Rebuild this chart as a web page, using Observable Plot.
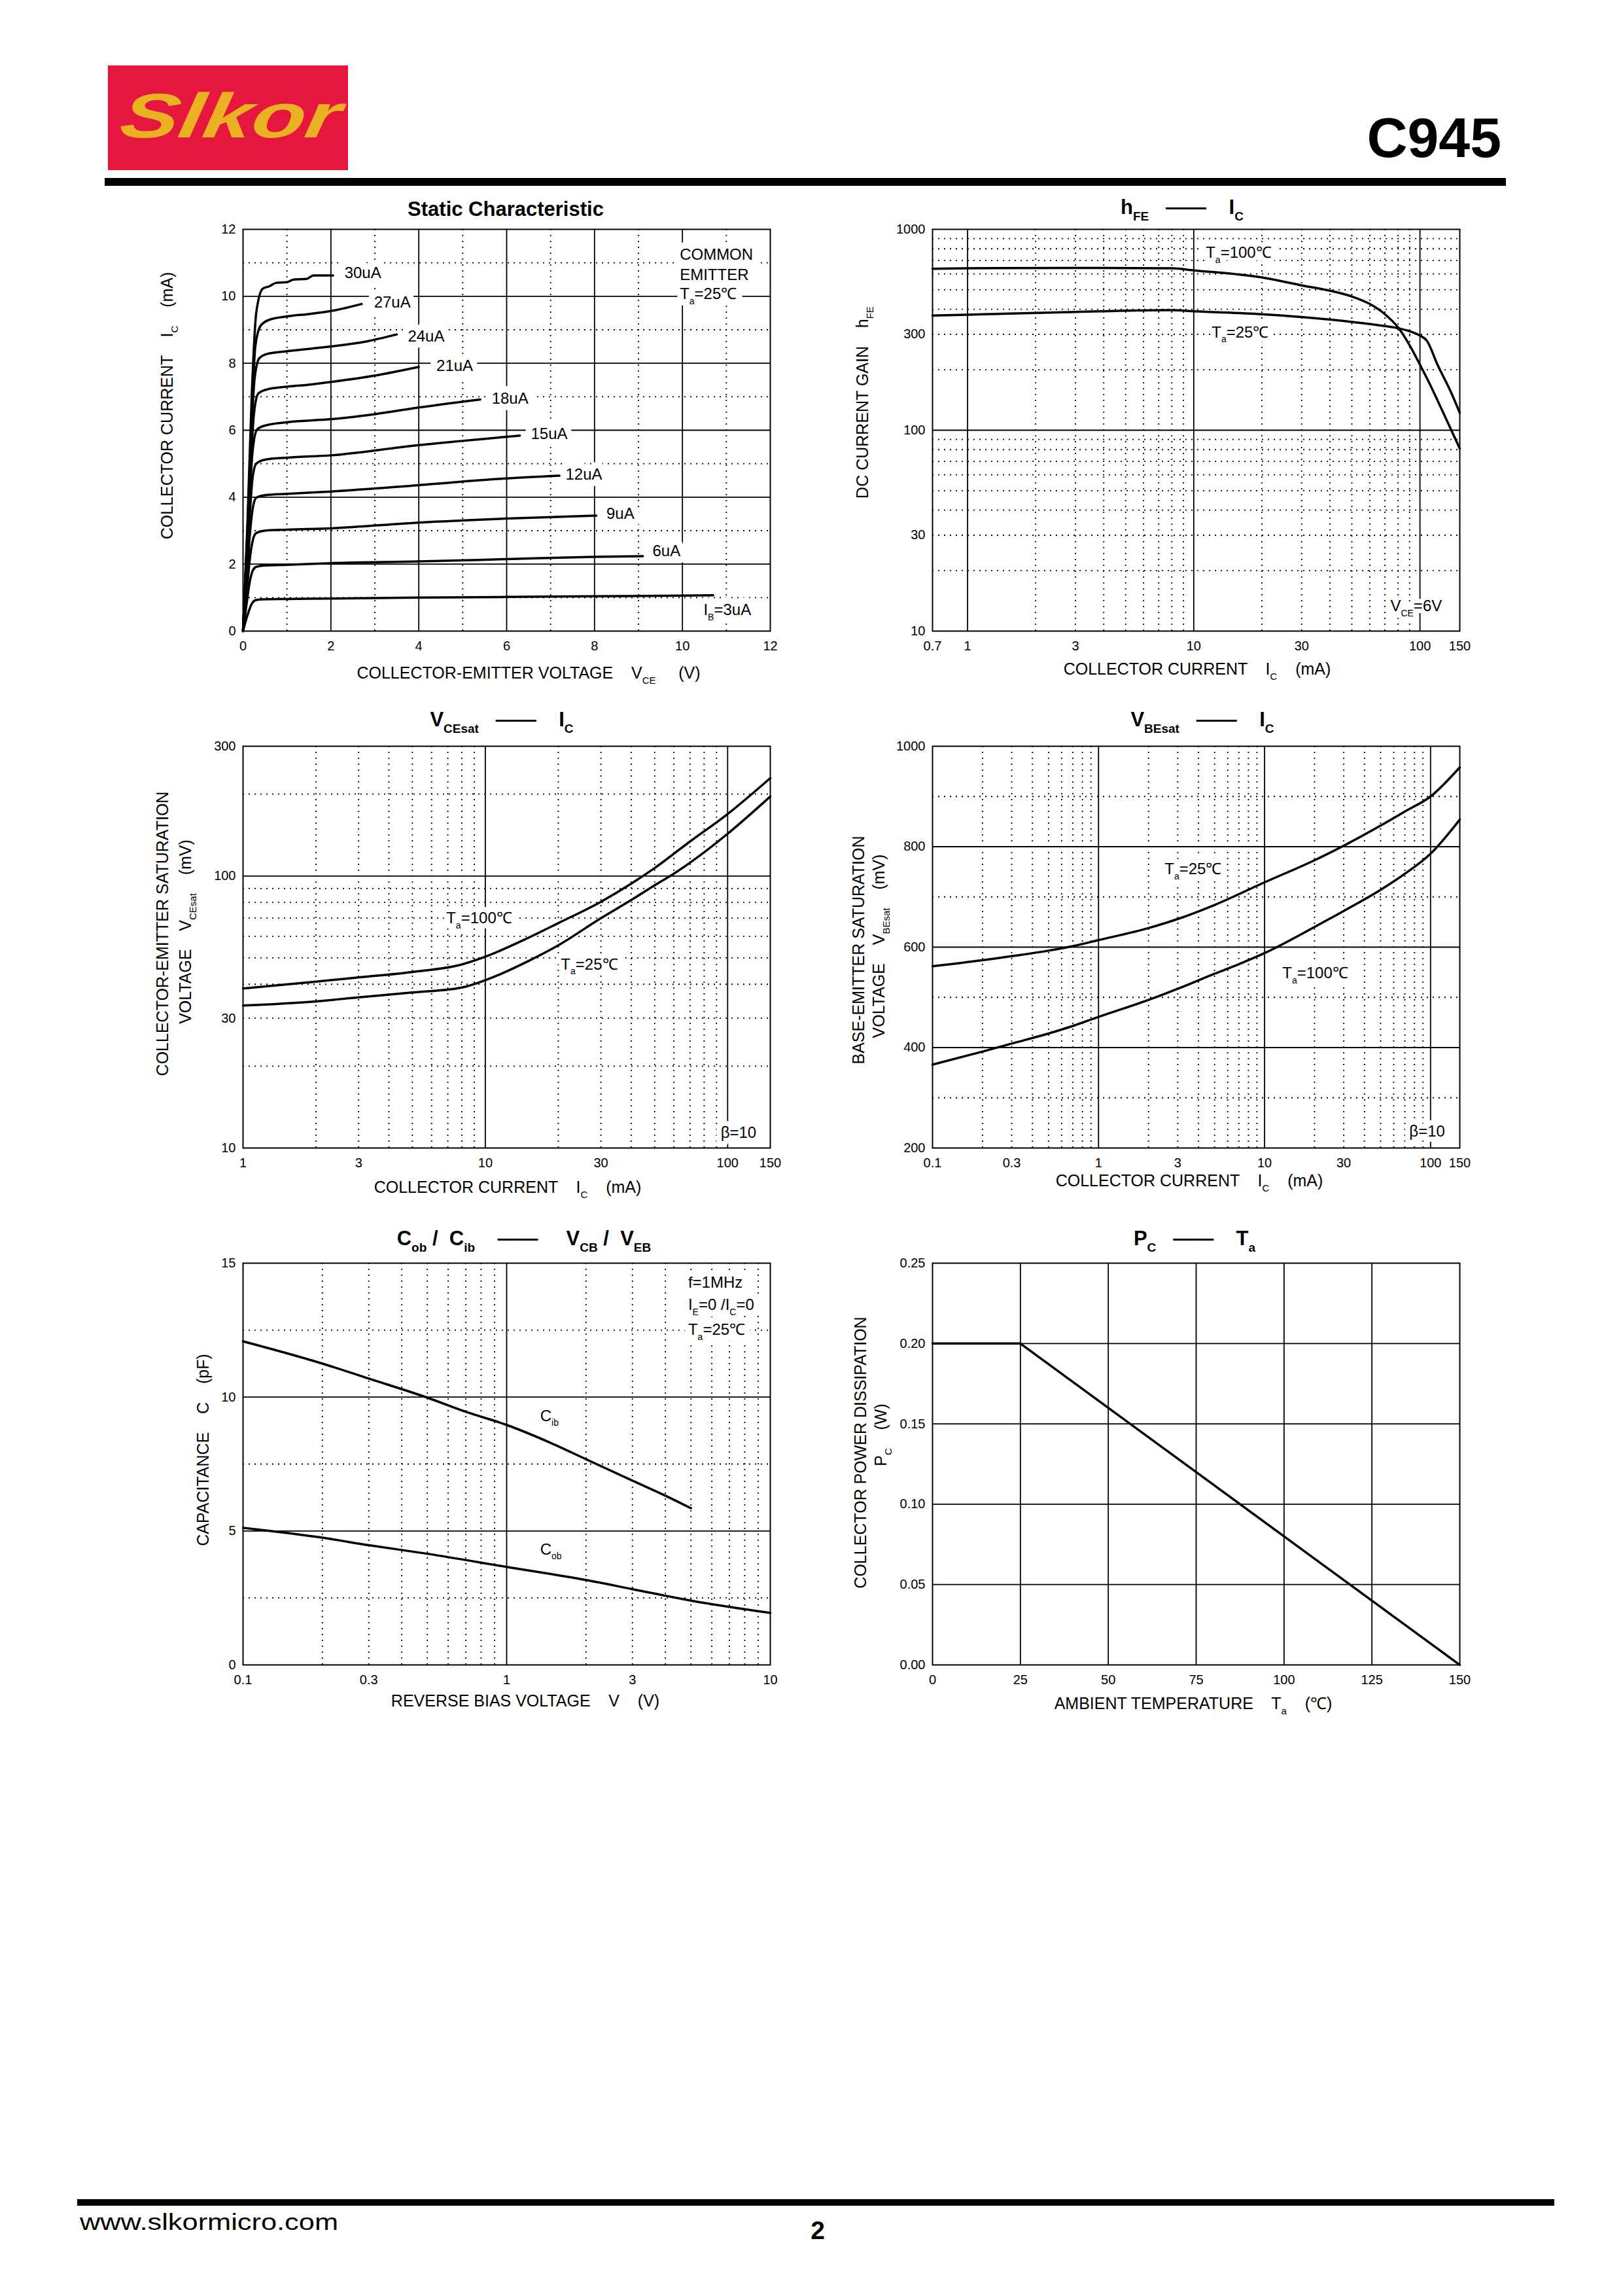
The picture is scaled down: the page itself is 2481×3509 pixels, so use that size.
<!DOCTYPE html>
<html><head><meta charset="utf-8">
<script src="https://cdn.jsdelivr.net/npm/d3@7"></script>
<script src="https://cdn.jsdelivr.net/npm/@observablehq/plot@0.6"></script>
<style>
html,body{margin:0;padding:0;background:#fff;}
#page{position:relative;width:2481px;height:3509px;overflow:hidden;background:#fff;}
#page svg text{white-space:pre;}
</style></head><body><div id="page"></div>
<script>
const FONT = "'Liberation Sans', Arial, Helvetica, sans-serif";

// ---------------- Chart 1: Static Characteristic ----------------
const staticTicks = [0, 2, 4, 6, 8, 10, 12];
const staticSolid = [2, 4, 6, 8, 10];
const staticDotted = [1, 3, 5, 7, 9, 11];
const ib3  = [[0,0],[0.06,0.3],[0.12,0.55],[0.2,0.82],[0.3,0.93],[0.45,0.95],[1,0.96],[2,0.97],[4,1.0],[6,1.02],[8,1.04],[10,1.06],[10.7,1.07]];
const ib6  = [[0,0],[0.08,0.8],[0.15,1.45],[0.22,1.8],[0.3,1.92],[0.5,1.96],[1,1.98],[2,2.03],[4,2.08],[6,2.15],[8,2.22],[9.1,2.24]];
const ib9  = [[0,0],[0.08,1.1],[0.15,2.1],[0.22,2.7],[0.3,2.93],[0.5,3.0],[1,3.03],[2,3.07],[4,3.24],[6,3.36],[8.04,3.45]];
const ib12 = [[0,0],[0.08,1.4],[0.15,2.8],[0.22,3.65],[0.3,3.98],[0.5,4.06],[1,4.1],[2,4.17],[4,4.36],[6,4.56],[7.2,4.64]];
const ib15 = [[0,0],[0.08,1.7],[0.15,3.4],[0.22,4.6],[0.3,5.0],[0.5,5.12],[1,5.18],[2,5.25],[3.9,5.54],[6.3,5.84]];
const ib18 = [[0,0],[0.08,2.0],[0.15,4.0],[0.22,5.4],[0.32,6.02],[0.5,6.14],[1,6.24],[2,6.33],[3,6.48],[3.9,6.66],[5.4,6.92]];
const ib21 = [[0,0],[0.1,2.6],[0.17,4.8],[0.25,6.5],[0.35,7.1],[0.55,7.22],[1,7.3],[1.5,7.36],[2,7.44],[3,7.63],[4,7.89]];
const ib24 = [[0,0],[0.1,2.8],[0.18,5.5],[0.26,7.5],[0.37,8.15],[0.55,8.28],[1,8.36],[2,8.5],[2.8,8.65],[3.5,8.86]];
const ib27 = [[0,0],[0.1,3.0],[0.2,6.5],[0.28,8.5],[0.4,9.12],[0.6,9.3],[1,9.4],[1.5,9.47],[2,9.56],[2.7,9.77]];
const ib30 = [[0,0],[0.1,3.2],[0.2,7.1],[0.3,9.5],[0.45,10.23],[0.6,10.3],[0.75,10.4],[1.0,10.42],[1.15,10.5],[1.45,10.52],[1.6,10.62],[2.05,10.62]];
const staticSeries = [ib3, ib6, ib9, ib12, ib15, ib18, ib21, ib24, ib27, ib30];
const staticLabels = ["I_{B}=3uA", "6uA", "9uA", "12uA", "15uA", "18uA", "21uA", "24uA", "27uA", "30uA"];
const staticLabelX = [10.48, 9.32, 8.27, 7.34, 6.55, 5.66, 4.40, 3.75, 2.98, 2.31];
const staticLabelY = [0.63, 2.38, 3.50, 4.68, 5.88, 6.95, 7.92, 8.79, 9.82, 10.69];
const staticNote = ["COMMON", "EMITTER", "T_{a}=25℃"];
const staticNoteX = [9.94, 9.94, 9.94];
const staticNoteY = [11.24, 10.64, 10.06];

// ---------------- Chart 2: hFE - IC ----------------
const hfeXTicks = [0.7, 1, 3, 10, 30, 100, 150];
const hfeYTicks = [10, 30, 100, 300, 1000];
const hfeXSolid = [1, 10, 100];
const hfeXDotted = [2,3,4,5,6,7,8,9,20,30,40,50,60,70,80,90];
const hfeYSolid = [100];
const hfeYDotted = [20,30,40,50,60,70,80,90,200,300,400,500,600,700,800,900];
const hfe100 = [[0.7,637],[1,640],[3,643],[8,640],[10,625],[20,576],[30,526],[40,495],[50,463],[60,425],[70,378],[80,325],[90,265],[100,212],[111,168],[126,124],[150,81]];
const hfe25  = [[0.7,372],[1,376],[3,388],[8,396],[10,391],[20,378],[30,366],[50,346],[70,330],[80,322],[90,311],[100,296],[107,280],[120,210],[137,155],[150,122]];
const hfeLabels = ["T_{a}=100℃", "T_{a}=25℃", "V_{CE}=6V"];
const hfeLabelX = [11.3, 12.0, 74];
const hfeLabelY = [762, 307, 13.3];

// ---------------- Chart 3: VCEsat - IC ----------------
const vceXTicks = [1, 3, 10, 30, 100, 150];
const vceYTicks = [10, 30, 100, 300];
const vceXSolid = [10, 100];
const vceXDotted = [2,3,4,5,6,7,8,9,20,30,40,50,60,70,80,90];
const vceYSolid = [100];
const vceYDotted = [20,30,40,50,60,70,80,90,200];
const vcesat100 = [[1,38.6],[2,40.9],[3,42.4],[5,44.4],[8,47.3],[10,50.5],[15,59.2],[20,67.1],[30,80.4],[40,93.7],[50,107],[70,134],[100,169],[150,229]];
const vcesat25  = [[1,33.4],[2,34.6],[3,35.8],[5,37.3],[8,38.9],[10,41.4],[15,48.6],[20,55.6],[30,70],[40,81.6],[50,92.5],[60,102],[70,112],[100,143],[150,196]];
const vceLabels = ["T_{a}=100℃", "T_{a}=25℃", "β=10"];
const vceLabelX = [6.9, 20.5, 93.6];
const vceLabelY = [70, 47.3, 11.4];

// ---------------- Chart 4: VBEsat - IC ----------------
const vbeXTicks = [0.1, 0.3, 1, 3, 10, 30, 100, 150];
const vbeYTicks = [200, 400, 600, 800, 1000];
const vbeXSolid = [1, 10, 100];
const vbeXDotted = [0.2,0.3,0.4,0.5,0.6,0.7,0.8,0.9,2,3,4,5,6,7,8,9,20,30,40,50,60,70,80,90];
const vbeYSolid = [400, 600, 800];
const vbeYDotted = [300, 500, 700, 900];
const vbesat25  = [[0.1,562],[0.2,574],[0.3,582],[0.5,593],[0.7,602],[1,614],[2,638],[3,656],[5,684],[10,729],[20,773],[30,802],[50,842],[70,870],[100,900],[150,958]];
const vbesat100 = [[0.1,366],[0.2,392],[0.3,408],[0.5,428],[0.7,443],[1,461],[2,495],[3,517],[5,547],[7,566],[10,588],[20,640],[30,672],[50,714],[70,746],[100,786],[150,854]];
const vbeLabels = ["T_{a}=25℃", "T_{a}=100℃", "β=10"];
const vbeLabelX = [2.5, 12.8, 74.5];
const vbeLabelY = [755, 548, 233];

// ---------------- Chart 5: Cob/Cib - VCB/VEB ----------------
const capXTicks = [0.1, 0.3, 1, 3, 10];
const capYTicks = [0, 5, 10, 15];
const capXSolid = [1];
const capXDotted = [0.2,0.3,0.4,0.5,0.6,0.7,0.8,0.9,2,3,4,5,6,7,8,9];
const capYSolid = [5, 10];
const capYDotted = [2.5, 7.5, 12.5];
const cib = [[0.1,12.08],[0.2,11.25],[0.3,10.69],[0.5,9.98],[0.7,9.45],[1,8.96],[1.5,8.25],[2,7.68],[3,6.88],[4,6.32],[5,5.85]];
const cob = [[0.1,5.12],[0.2,4.75],[0.3,4.47],[0.5,4.15],[1,3.66],[2,3.17],[3,2.83],[5,2.4],[10,1.94]];
const capLabels = ["C_{ib}", "C_{ob}", "f=1MHz", "I_{E}=0 /I_{C}=0", "T_{a}=25℃"];
const capLabelX = [1.34, 1.34, 4.88, 4.88, 4.88];
const capLabelY = [9.3, 4.31, 14.26, 13.43, 12.51];

// ---------------- Chart 6: PC - Ta ----------------
const pcXTicks = [0, 25, 50, 75, 100, 125, 150];
const pcYTicks = [0, 0.05, 0.10, 0.15, 0.20, 0.25];
const pcXSolid = [25, 50, 75, 100, 125];
const pcYSolid = [0.05, 0.10, 0.15, 0.20];
const pcDerating = [[0,0.2],[25,0.2],[150,0]];

// ---------------- Page texts ----------------
const titles = ["Static Characteristic", "h_{FE}   ——    I_{C}", "V_{CEsat}   ——    I_{C}", "V_{BEsat}   ——    I_{C}",
  "C_{ob} /  C_{ib}    ——     V_{CB} /  V_{EB}", "P_{C}   ——    T_{a}"];
const xLabels = ["COLLECTOR-EMITTER VOLTAGE    V_{CE}     (V)", "COLLECTOR CURRENT    I_{C}    (mA)", "COLLECTOR CURRENT    I_{C}    (mA)",
  "COLLECTOR CURRENT    I_{C}    (mA)", "REVERSE BIAS VOLTAGE    V    (V)", "AMBIENT TEMPERATURE    T_{a}    (℃)"];
const yLabels1 = ["COLLECTOR CURRENT    I_{C}    (mA)", "DC CURRENT GAIN    h_{FE}", "COLLECTOR-EMITTER SATURATION",
  "BASE-EMITTER SATURATION", "CAPACITANCE    C    (pF)", "COLLECTOR POWER DISSIPATION"];
const yLabels2 = [null, null, "VOLTAGE    V_{CEsat}    (mV)", "VOLTAGE    V_{BEsat}    (mV)", null, "P_{C}    (W)"];

const page = document.getElementById("page");
const NS = "http://www.w3.org/2000/svg";

function finishText(root) {
  root.querySelectorAll("text").forEach(node => {
    const t = node.textContent;
    if (!t.includes("_{") || node.querySelector("tspan")) return;
    const fs = parseFloat(getComputedStyle(node).fontSize) || 24;
    const sub = Math.round(fs * 0.6), shift = fs * 0.32;
    while (node.firstChild) node.removeChild(node.firstChild);
    const re = /_\{([^}]*)\}/g; let last = 0, m, lowered = false;
    const add = (s, isSub) => {
      const ts = document.createElementNS(NS, "tspan");
      ts.textContent = s;
      if (isSub) { ts.setAttribute("font-size", sub); ts.setAttribute("dy", shift); }
      else if (lowered) ts.setAttribute("dy", -shift);
      node.appendChild(ts); lowered = isSub;
    };
    while ((m = re.exec(t))) { if (m.index > last) add(t.slice(last, m.index), false); add(m[1], true); last = re.lastIndex; }
    if (last < t.length) add(t.slice(last), false);
  });
}

const ML = 100, MR = 40, MT = 30, MB = 60, W = 806, H = 614;
const solidRule = {stroke: "#000", strokeWidth: 1.8};
const dotRule = {stroke: "#000", strokeWidth: 1.8, strokeDasharray: "2,7"};
function grid(sx, dx, sy, dy) {
  return [Plot.ruleX(dx, dotRule), Plot.ruleY(dy, dotRule), Plot.ruleX(sx, solidRule), Plot.ruleY(sy, solidRule)];
}
function curves(list, sw = 3.5) {
  return list.map(s => Plot.line(s, {x: d => d[0], y: d => d[1], curve: "monotone-x", stroke: "#000", strokeWidth: sw}));
}
function halo(texts, xs, ys, w = 16) {
  return Plot.text(texts, {x: (d, i) => xs[i], y: (d, i) => ys[i], text: d => d, textAnchor: "start",
    fontSize: 24, fill: "#fff", stroke: "#fff", strokeWidth: w, strokeLinejoin: "round"});
}
function notes(texts, xs, ys) {
  return Plot.text(texts, {x: (d, i) => xs[i], y: (d, i) => ys[i], text: d => d, textAnchor: "start",
    fontSize: 24, fill: "#000"});
}
const num = d => String(+d.toPrecision(6));
function xTickText(ticks) {
  return Plot.text(ticks, {x: d => d, frameAnchor: "bottom", lineAnchor: "top", dy: 15, text: num, fontSize: 20, fill: "#000"});
}
function makeChart(left, top, x, y, marks) {
  const svg = Plot.plot({
    width: ML + W + MR, height: MT + H + MB, marginLeft: ML, marginRight: MR, marginTop: MT, marginBottom: MB,
    x: Object.assign({tickSize: 0, tickPadding: 15, label: null}, x),
    y: Object.assign({tickSize: 0, tickPadding: 11, label: null}, y),
    style: {fontFamily: FONT, fontSize: "20px", color: "#000", background: "transparent", overflow: "visible"},
    marks: [...marks, Plot.frame({stroke: "#000", strokeWidth: 2})]
  });
  svg.style.position = "absolute";
  svg.style.left = (left - ML) + "px";
  svg.style.top = (top - MT) + "px";
  page.appendChild(svg);
  finishText(svg);
}

makeChart(371, 350,
  {domain: [0, 12], ticks: staticTicks, tickFormat: num},
  {domain: [0, 12], ticks: staticTicks, tickFormat: num},
  [...grid(staticSolid, staticDotted, staticSolid, staticDotted),
   halo(staticLabels, staticLabelX, staticLabelY, 20),
   halo(staticNote, staticNoteX, staticNoteY, 20),
   ...curves(staticSeries, 3.5),
   notes(staticLabels, staticLabelX, staticLabelY),
   notes(staticNote, staticNoteX, staticNoteY)]);

makeChart(1425, 350,
  {type: "log", domain: [0.7, 150], axis: null},
  {type: "log", domain: [10, 1000], ticks: hfeYTicks, tickFormat: num},
  [...grid(hfeXSolid, hfeXDotted, hfeYSolid, hfeYDotted),
   halo(hfeLabels, hfeLabelX, hfeLabelY, 14),
   ...curves([hfe100, hfe25], 3.5),
   notes(hfeLabels, hfeLabelX, hfeLabelY),
   xTickText(hfeXTicks)]);

makeChart(371, 1140,
  {type: "log", domain: [1, 150], ticks: vceXTicks, tickFormat: num},
  {type: "log", domain: [10, 300], ticks: vceYTicks, tickFormat: num},
  [...grid(vceXSolid, vceXDotted, vceYSolid, vceYDotted),
   halo(vceLabels, vceLabelX, vceLabelY, 16),
   ...curves([vcesat100, vcesat25], 3.5),
   notes(vceLabels, vceLabelX, vceLabelY)]);

makeChart(1425, 1140,
  {type: "log", domain: [0.1, 150], ticks: vbeXTicks, tickFormat: num},
  {domain: [200, 1000], ticks: vbeYTicks, tickFormat: num},
  [...grid(vbeXSolid, vbeXDotted, vbeYSolid, vbeYDotted),
   halo(vbeLabels, vbeLabelX, vbeLabelY, 16),
   ...curves([vbesat25, vbesat100], 3.5),
   notes(vbeLabels, vbeLabelX, vbeLabelY)]);

makeChart(371, 1930,
  {type: "log", domain: [0.1, 10], ticks: capXTicks, tickFormat: num},
  {domain: [0, 15], ticks: capYTicks, tickFormat: num},
  [...grid(capXSolid, capXDotted, capYSolid, capYDotted),
   halo(capLabels, capLabelX, capLabelY, 20),
   ...curves([cib, cob], 3.5),
   notes(capLabels, capLabelX, capLabelY)]);

makeChart(1425, 1930,
  {domain: [0, 150], ticks: pcXTicks, tickFormat: num},
  {domain: [0, 0.25], ticks: pcYTicks, tickFormat: d3.format(".2f")},
  [...grid(pcXSolid, [], pcYSolid, []),
   Plot.line(pcDerating, {x: d => d[0], y: d => d[1], stroke: "#000", strokeWidth: 3.5})]);

// ---------------- Overlay: header, titles, axis labels, footer ----------------
const ov = d3.select(page).append("svg").attr("width", 2481).attr("height", 3509)
  .style("position", "absolute").style("left", "0px").style("top", "0px").style("pointer-events", "none");

// header
ov.append("rect").attr("x", 165).attr("y", 100).attr("width", 367).attr("height", 160).attr("fill", "#E5173F");
ov.append("text").attr("transform", "translate(180,210) skewX(-10)")
  .attr("font-family", FONT).attr("font-weight", "bold").attr("font-style", "italic").attr("font-size", 96)
  .attr("textLength", 335).attr("lengthAdjust", "spacingAndGlyphs").attr("fill", "#EAB223").text("Slkor");
ov.append("text").attr("x", 2295).attr("y", 240).attr("text-anchor", "end").attr("font-family", FONT)
  .attr("font-weight", "bold").attr("font-size", 86).attr("fill", "#000").text("C945");
ov.append("rect").attr("x", 160).attr("y", 272).attr("width", 2142).attr("height", 12).attr("fill", "#000");

function label(x, y, s, {size = 25, weight = "normal", rotate = false} = {}) {
  const t = ov.append("text").attr("font-family", FONT).attr("font-size", size).attr("font-weight", weight)
    .attr("text-anchor", "middle").attr("fill", "#000").text(s);
  if (rotate) t.attr("transform", `translate(${x},${y}) rotate(-90)`);
  else t.attr("x", x).attr("y", y);
  return t;
}
const titlePos = [[773, 330], [1807, 327], [767, 1110], [1838, 1110], [801, 1903], [1826, 1903]];
titles.forEach((s, i) => label(titlePos[i][0], titlePos[i][1], s, {size: 31, weight: "bold"}));
const xLabelPos = [[808, 1037], [1830, 1031], [776, 1823], [1818, 1813], [803, 2608], [1824, 2612]];
xLabels.forEach((s, i) => label(xLabelPos[i][0], xLabelPos[i][1], s));
const yLabel1Pos = [[264, 620], [1327, 615], [257, 1427], [1321, 1452], [319, 2216], [1324, 2220]];
yLabels1.forEach((s, i) => label(yLabel1Pos[i][0], yLabel1Pos[i][1], s, {rotate: true}));
const yLabel2Pos = [null, null, [292, 1424], [1352, 1446], null, [1355, 2193]];
yLabels2.forEach((s, i) => { if (s) label(yLabel2Pos[i][0], yLabel2Pos[i][1], s, {rotate: true}); });

// footer
ov.append("rect").attr("x", 118).attr("y", 3361).attr("width", 2258).attr("height", 10).attr("fill", "#000");
ov.append("text").attr("x", 122).attr("y", 3408).attr("font-family", FONT).attr("font-size", 35)
  .attr("textLength", 395).attr("lengthAdjust", "spacingAndGlyphs").attr("fill", "#000").text("www.slkormicro.com");
ov.append("text").attr("x", 1250).attr("y", 3422).attr("text-anchor", "middle").attr("font-family", FONT)
  .attr("font-weight", "bold").attr("font-size", 39).attr("fill", "#000").text("2");

finishText(ov.node());
</script></body></html>
